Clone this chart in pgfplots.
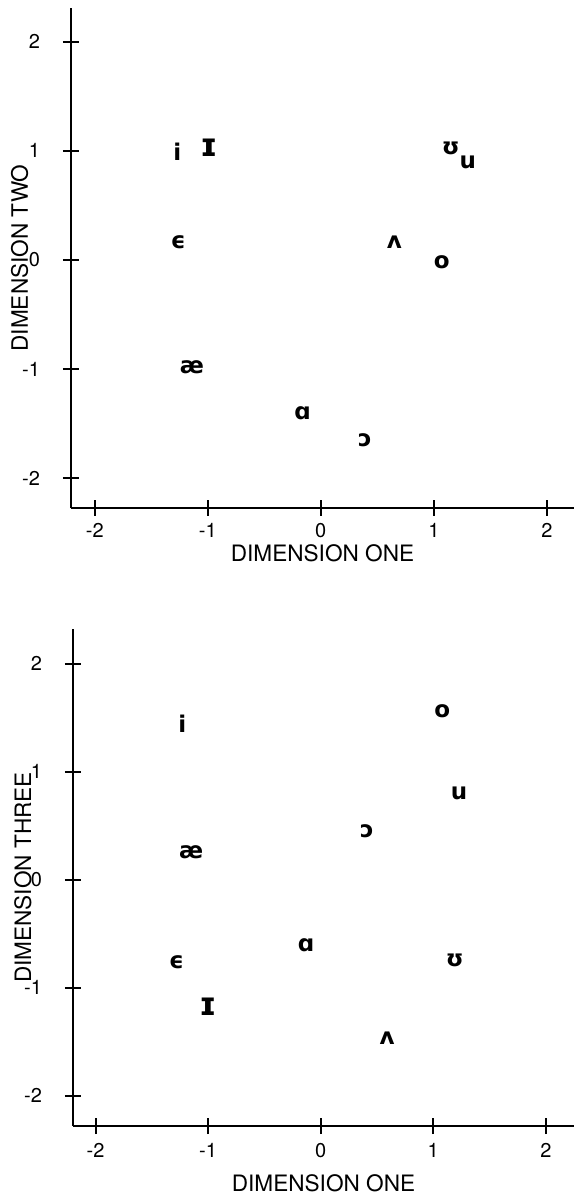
\documentclass[border=0pt]{standalone}
\usepackage{pgfplots}
\pgfplotsset{compat=1.18}
\usepackage{fontspec}
\setmainfont{TeX Gyre Heros}
\newfontfamily\ipa{DejaVu Sans}

\pgfplotsset{
  vowel/.style={
    scale only axis,
    axis lines=left,
    axis line style={-, line width=1.1pt},
    tick style={black, line width=1pt},
    tick align=center,
    major tick length=8pt,
    xtick={-2,-1,0,1,2},
    ytick={-2,-1,0,1,2},
    /pgf/number format/assume math mode=true,
    tick label style={font=\fontsize{10}{12}\selectfont},
    label style={font=\fontsize{11.3}{13}\selectfont},
    xticklabel style={yshift=0pt},
    yticklabel style={xshift=-8pt},
  },
  vowels/.style={
    only marks, mark=none,
    nodes near coords,
    point meta=explicit symbolic,
    every node near coord/.style={anchor=center, inner sep=0pt,
      font=\ipa\bfseries\fontsize{11.5}{12}\selectfont},
  },
  bigvowel/.style={
    vowels,
    every node near coord/.append style={font=\ipa\bfseries\fontsize{16}{16}\selectfont},
  },
}

\begin{document}
\begin{tikzpicture}
\path[use as bounding box] (0,0) rectangle (287pt,597.5pt);

% dimension one against dimension two
\begin{axis}[vowel,
  at={(35.5pt,343.5pt)}, anchor=south west,
  width=251.5pt, height=250pt,
  xmin=-2.21, xmax=2.24, ymin=-2.275, ymax=2.31,
  xlabel={DIMENSION ONE}, ylabel={DIMENSION TWO},
  xlabel style={at={(axis description cs:0.5,-0.09)}, anchor=center},
  ylabel style={at={(axis description cs:-0.102,0.5)}, anchor=center},
]
\addplot[vowels] coordinates {
  (-1.27,0.99) [i]
  (-1.26,0.16) [ϵ]
  (-1.14,-0.98) [æ]
  (-0.16,-1.41) [ɑ]
  (0.39,-1.65) [ɔ]
  (0.65,0.16) [ʌ]
  (1.07,-0.02) [o]
  (1.15,1.02) [ʊ]
  (1.30,0.89) [u]
};
\addplot[bigvowel] coordinates {
  (-0.99,1.03) [ɪ]
};
\end{axis}

% dimension one against dimension three
\begin{axis}[vowel,
  at={(36.5pt,34.5pt)}, anchor=south west,
  width=250.5pt, height=248.5pt,
  xticklabel style={yshift=-1pt},
  xmin=-2.20, xmax=2.25, ymin=-2.28, ymax=2.32,
  xlabel={DIMENSION ONE}, ylabel={DIMENSION THREE},
  xlabel style={at={(axis description cs:0.5,-0.115)}, anchor=center},
  ylabel style={at={(axis description cs:-0.100,0.5)}, anchor=center},
]
\addplot[vowels] coordinates {
  (-1.23,1.44) [i]
  (-1.28,-0.76) [ϵ]
  (-1.15,0.25) [æ]
  (-0.13,-0.61) [ɑ]
  (0.41,0.45) [ɔ]
  (0.59,-1.47) [ʌ]
  (1.08,1.56) [o]
  (1.19,-0.75) [ʊ]
  (1.23,0.80) [u]
};
\addplot[bigvowel] coordinates {
  (-1.00,-1.18) [ɪ]
};
\end{axis}
\end{tikzpicture}
\end{document}
